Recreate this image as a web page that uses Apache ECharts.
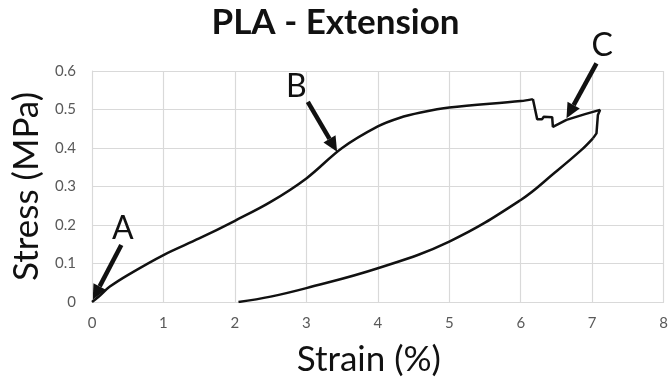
<!DOCTYPE html>
<html>
<head>
<meta charset="utf-8">
<script src="https://cdn.jsdelivr.net/npm/echarts@6/dist/echarts.min.js"></script>
<style>
  html, body { margin: 0; padding: 0; background: #fff; }
  #chart { width: 671px; height: 389px; }
</style>
</head>
<body>
<div id="chart"></div>
<script>
// loading branch (strain %, stress MPa)
const loadStrain = [0, 0.1, 0.25, 0.5, 1, 1.5, 2, 2.5, 3, 3.5, 4, 4.3, 4.6, 5, 6, 6.17]
const loadStress = [0, 0.015, 0.04, 0.07, 0.122, 0.165, 0.211, 0.26, 0.321, 0.4, 0.456, 0.478, 0.492, 0.505, 0.522, 0.527]

// jagged failure zone around C
const failStrain = [6.17, 6.23, 6.3, 6.32, 6.44, 6.45, 6.64, 6.9, 7.11, 7.08, 7.06, 7.01]
const failStress = [0.527, 0.475, 0.475, 0.481, 0.48, 0.455, 0.473, 0.488, 0.499, 0.486, 0.438, 0.425]

// unloading branch
const unloadStrain = [7.01, 6.85, 6.47, 6, 5, 4, 3, 2.5, 2.05]
const unloadStress = [0.425, 0.395, 0.335, 0.265, 0.157, 0.0875, 0.036, 0.014, 0]

// annotations: label, label position, arrow tail, arrow tip (data coords)
const markLabels = ['A', 'B', 'C']
const labelPos = [[0.43, 0.19], [2.86, 0.56], [7.14, 0.665]]
const arrowFrom = [[0.41, 0.148], [3.02, 0.52], [7.06, 0.62]]
const arrowTo = [[0.01, 0.006], [3.43, 0.39], [6.64, 0.477]]

const xTicks = [0, 1, 2, 3, 4, 5, 6, 7, 8]

const pairs = (xs, ys) => xs.map((x, i) => [x, ys[i]])

const chart = echarts.init(document.getElementById('chart'))

const lineStyle = { color: '#111', width: 2.5 }

chart.setOption({
  animation: false,
  textStyle: { fontFamily: 'Lato' },
  title: {
    text: 'PLA - Extension',
    left: 'center',
    top: 0,
    textStyle: { fontFamily: 'Lato', fontWeight: 'bold', fontSize: 35, color: '#111' },
  },
  grid: { left: 92, right: 2, top: 71, bottom: 87 },
  xAxis: {
    type: 'value',
    min: xTicks[0],
    max: xTicks[xTicks.length - 1],
    interval: 1,
    name: 'Strain (%)',
    nameLocation: 'middle',
    nameGap: 40,
    nameTextStyle: { fontSize: 35, color: '#111', fontFamily: 'Lato', padding: [0, 18, 0, 0] },
    axisLine: { lineStyle: { color: '#d9d9d9' } },
    axisTick: { show: false },
    axisLabel: { color: '#595959', fontSize: 15, margin: 14 },
    splitLine: { show: true, lineStyle: { color: '#d9d9d9', width: 1.2 } },
  },
  yAxis: {
    type: 'value',
    min: 0,
    max: 0.6,
    interval: 0.1,
    name: 'Stress (MPa)',
    nameLocation: 'middle',
    nameGap: 46,
    nameTextStyle: { fontSize: 35, color: '#111', fontFamily: 'Lato' },
    axisLine: { show: true, lineStyle: { color: '#d9d9d9' } },
    axisTick: { show: false },
    axisLabel: { color: '#595959', fontSize: 15, margin: 16 },
    splitLine: { show: true, lineStyle: { color: '#d9d9d9', width: 1.2 } },
  },
  series: [
    {
      type: 'line',
      data: pairs(loadStrain, loadStress),
      smooth: 0.35,
      showSymbol: false,
      lineStyle,
    },
    {
      type: 'line',
      data: pairs(failStrain, failStress),
      showSymbol: false,
      lineStyle,
    },
    {
      type: 'line',
      data: pairs(unloadStrain, unloadStress),
      smooth: 0.4,
      showSymbol: false,
      lineStyle,
    },
  ],
})

// arrows and letters placed through the axes' own conversion
function drawNotes() {
  const els = []
  markLabels.forEach((t, i) => {
    const a = chart.convertToPixel({ gridIndex: 0 }, arrowFrom[i])
    const b = chart.convertToPixel({ gridIndex: 0 }, arrowTo[i])
    const lp = chart.convertToPixel({ gridIndex: 0 }, labelPos[i])
    const dx = b[0] - a[0], dy = b[1] - a[1]
    const len = Math.hypot(dx, dy)
    const ux = dx / len, uy = dy / len
    const headLen = 15, headW = 7
    const bx = b[0] - ux * headLen, by = b[1] - uy * headLen
    els.push({
      type: 'line',
      shape: { x1: a[0], y1: a[1], x2: bx, y2: by },
      style: { stroke: '#111', lineWidth: 4.5 },
      silent: true,
    })
    els.push({
      type: 'polygon',
      shape: { points: [[b[0], b[1]], [bx - uy * headW, by + ux * headW], [bx + uy * headW, by - ux * headW]] },
      style: { fill: '#111' },
      silent: true,
    })
    els.push({
      type: 'text',
      x: lp[0],
      y: lp[1],
      style: { text: t, fill: '#111', font: '32px Lato', align: 'center', verticalAlign: 'middle' },
      silent: true,
    })
  })
  chart.setOption({ graphic: els })
}
drawNotes()
</script>
</body>
</html>
